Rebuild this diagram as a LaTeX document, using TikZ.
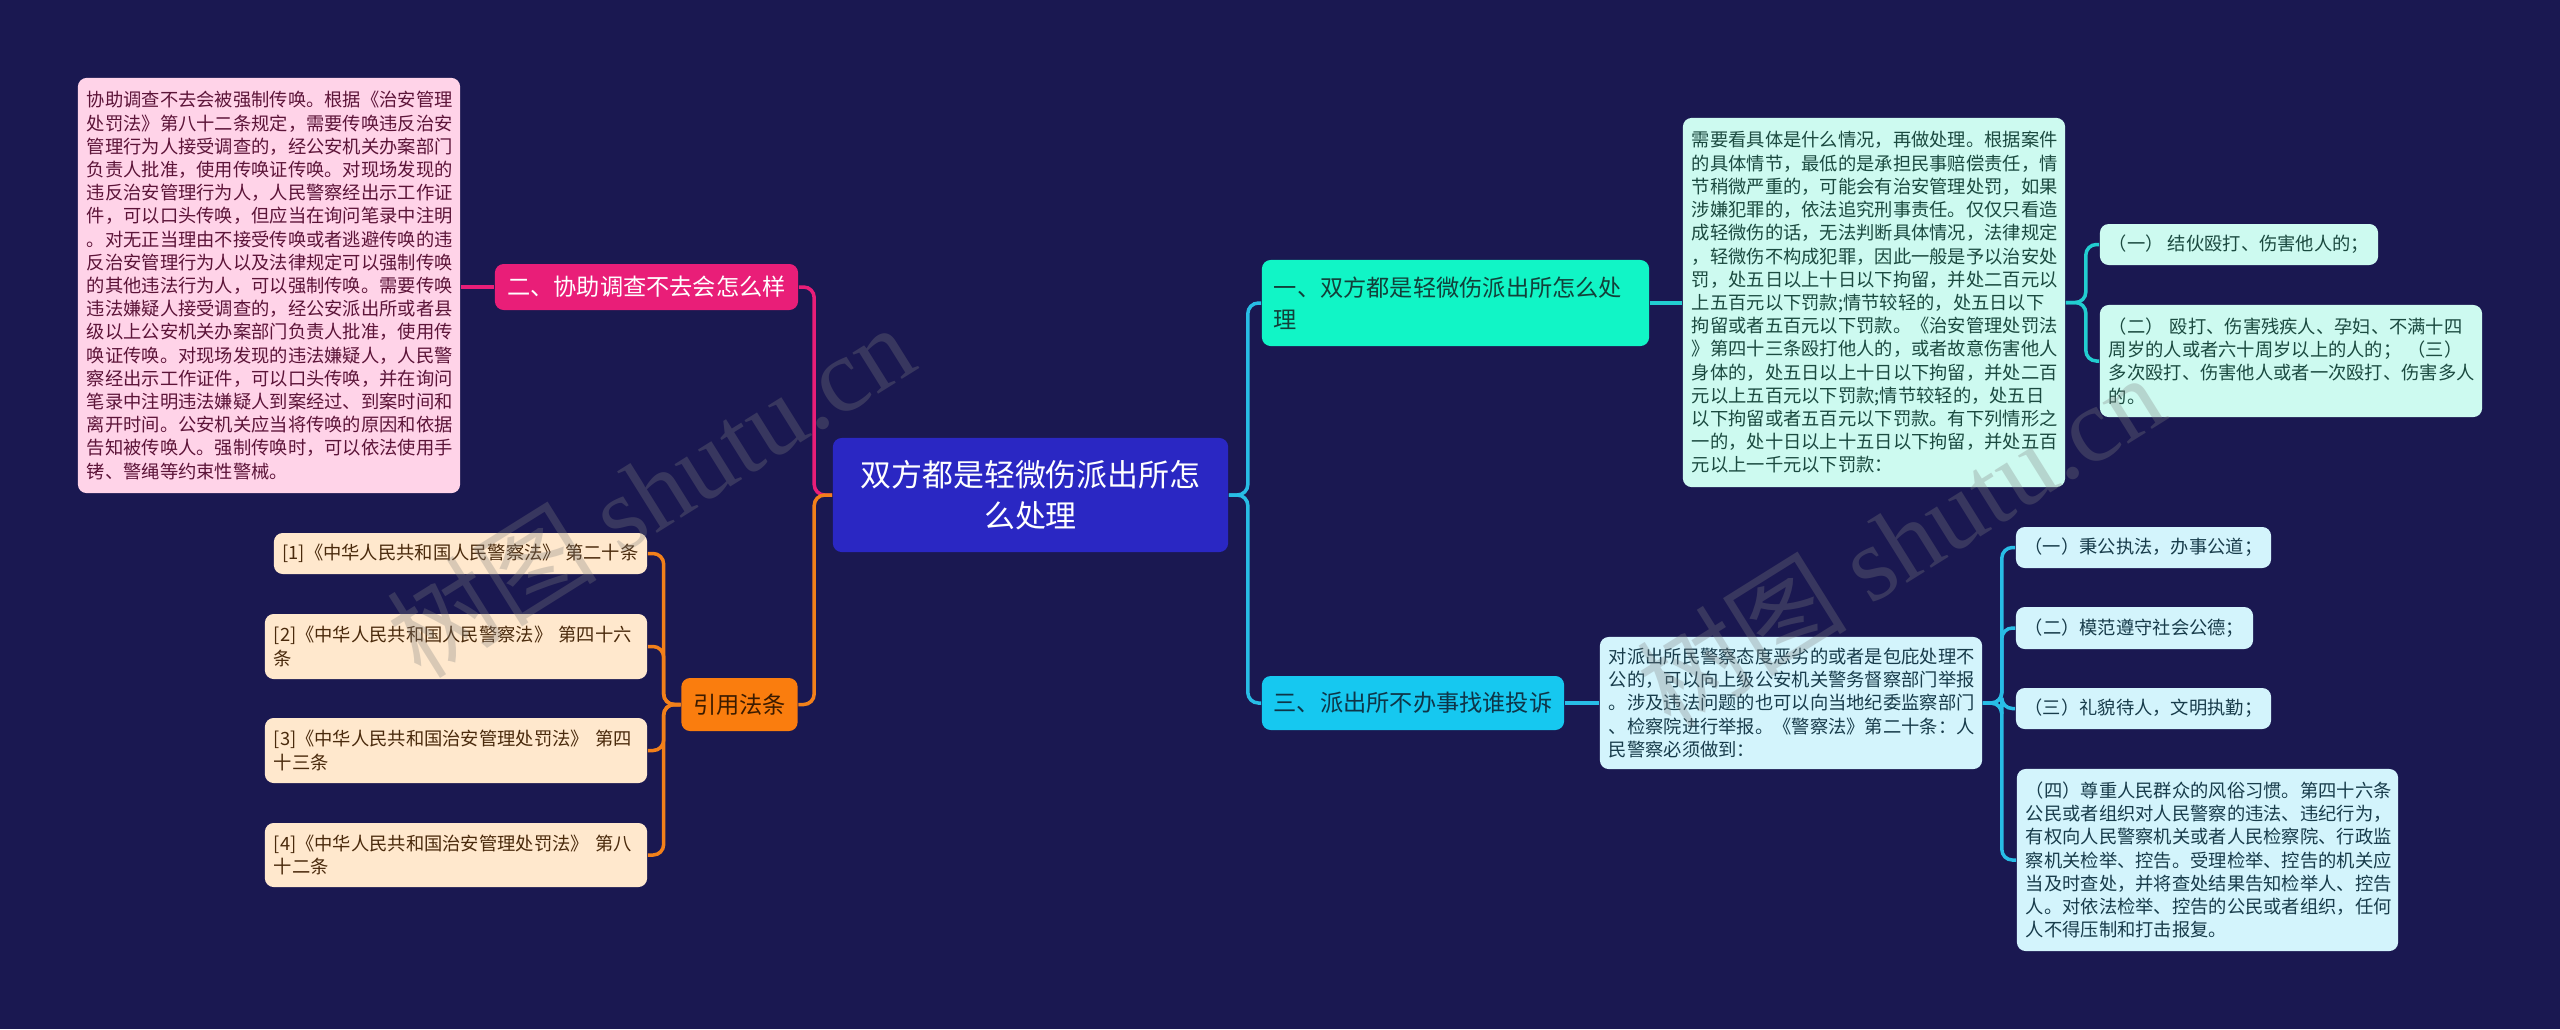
\documentclass[tikz,border=0pt]{standalone}
\usepackage{fontspec}
\setmainfont{Noto Sans CJK SC}
\newfontfamily\wmlatin{Liberation Serif}
\usetikzlibrary{positioning}
\definecolor{bgnavy}{HTML}{1A1851}
\definecolor{rootblue}{HTML}{2A27C3}
\definecolor{pinkhead}{HTML}{E91E78}
\definecolor{pinkleaf}{HTML}{FFD3E8}
\definecolor{pinktext}{HTML}{5C1438}
\definecolor{orangehead}{HTML}{FA7D0E}
\definecolor{orangetext}{HTML}{3B1B00}
\definecolor{peach}{HTML}{FFE8CD}
\definecolor{peachtext}{HTML}{4A2A0C}
\definecolor{aquahead}{HTML}{11F5C6}
\definecolor{aquatext}{HTML}{12403A}
\definecolor{aqualeaf}{HTML}{CDFAF0}
\definecolor{aqualeaftext}{HTML}{1B4A40}
\definecolor{cyanhead}{HTML}{16C8F0}
\definecolor{cyantext}{HTML}{0E3548}
\definecolor{cyanleaf}{HTML}{D3F4FC}
\definecolor{cyanleaftext}{HTML}{183C4B}
\definecolor{linkcyan}{HTML}{28BDE6}
\definecolor{linkteal}{HTML}{22CDD0}
\definecolor{linkorange}{HTML}{F2801A}
\tikzset{
  box/.style={rounded corners=2.5pt,inner ysep=0pt},
  rootbox/.style={box,fill=rootblue,text=white,align=center,minimum width=3.95cm,minimum height=1.14cm,font=\fontsize{8.8pt}{11.8pt}\selectfont},
  headbox/.style={box,align=left,font=\fontsize{6.6pt}{9pt}\selectfont},
  leaf/.style={box,align=left,inner xsep=0.09cm,font=\fontsize{5.2pt}{6.6pt}\selectfont},
  pinkbox/.style={leaf,fill=pinkleaf,text=pinktext},
  peachbox/.style={leaf,fill=peach,text=peachtext},
  aquabox/.style={leaf,fill=aqualeaf,text=aqualeaftext},
  cyanbox/.style={leaf,fill=cyanleaf,text=cyanleaftext},
  link/.style={line width=1pt,rounded corners=3pt},
  watermark/.style={rotate=32,text=gray,opacity=.3,font=\fontsize{30pt}{30pt}\selectfont}
}

\begin{document}
\begin{tikzpicture}[x=0.01cm,y=-0.01cm]
\fill[bgnavy] (0,0) rectangle (2560,1029);
\useasboundingbox (0,0) rectangle (2560,1029);
% centre and main branches
\node[rootbox] (root) at (1030.5,495) {双方都是轻微伤派出所怎\\么处理};
\node[headbox,fill=aquahead,text=aquatext,inner xsep=0.12cm,text width=3.63cm,minimum height=0.86cm] (n1) at (1455.5,303) {一、双方都是轻微伤派出所怎么处\\理};
\node[headbox,fill=cyanhead,text=cyantext,align=center,minimum width=3.02cm,minimum height=0.54cm] (n3) at (1413,703) {三、派出所不办事找谁投诉};
\node[headbox,fill=pinkhead,text=white,align=center,minimum width=3.03cm,minimum height=0.46cm] (n2) at (646.5,287) {二、协助调查不去会怎么样};
\node[headbox,fill=orangehead,text=orangetext,align=center,minimum width=1.15cm,minimum height=0.53cm] (law) at (739.5,704.5) {引用法条};
% left side
\node[pinkbox,text width=3.64cm,minimum height=4.15cm] (lp) at (269,285.5) {协助调查不去会被强制传唤。根据《治安管理\\
处罚法》第八十二条规定，需要传唤违反治安\\
管理行为人接受调查的，经公安机关办案部门\\
负责人批准，使用传唤证传唤。对现场发现的\\
违反治安管理行为人，人民警察经出示工作证\\
件，可以口头传唤，但应当在询问笔录中注明\\
。对无正当理由不接受传唤或者逃避传唤的违\\
反治安管理行为人以及法律规定可以强制传唤\\
的其他违法行为人，可以强制传唤。需要传唤\\
违法嫌疑人接受调查的，经公安派出所或者县\\
级以上公安机关办案部门负责人批准，使用传\\
唤证传唤。对现场发现的违法嫌疑人，人民警\\
察经出示工作证件，可以口头传唤，并在询问\\
笔录中注明违法嫌疑人到案经过、到案时间和\\
离开时间。公安机关应当将传唤的原因和依据\\
告知被传唤人。强制传唤时，可以依法使用手\\
铐、警绳等约束性警械。};
\node[peachbox,inner xsep=0pt,minimum width=3.73cm,minimum height=0.41cm] (r1) at (460.5,553.5) {[1]《中华人民共和国人民警察法》 第二十条};
\node[peachbox,text width=3.64cm,minimum height=0.65cm] (r2) at (456,646.5) {[2]《中华人民共和国人民警察法》 第四十六\\条};
\node[peachbox,text width=3.64cm,minimum height=0.65cm] (r3) at (456,750.5) {[3]《中华人民共和国治安管理处罚法》 第四\\十三条};
\node[peachbox,text width=3.64cm,minimum height=0.64cm] (r4) at (456,855) {[4]《中华人民共和国治安管理处罚法》 第八\\十二条};
% right side
\node[aquabox,text width=3.64cm,minimum height=3.69cm] (lt) at (1874,302.5) {需要看具体是什么情况，再做处理。根据案件\\
的具体情节，最低的是承担民事赔偿责任，情\\
节稍微严重的，可能会有治安管理处罚，如果\\
涉嫌犯罪的，依法追究刑事责任。仅仅只看造\\
成轻微伤的话，无法判断具体情况，法律规定\\
，轻微伤不构成犯罪，因此一般是予以治安处\\
罚，处五日以上十日以下拘留，并处二百元以\\
上五百元以下罚款;情节较轻的，处五日以下\\
拘留或者五百元以下罚款。《治安管理处罚法\\
》第四十三条殴打他人的，或者故意伤害他人\\
身体的，处五日以上十日以下拘留，并处二百\\
元以上五百元以下罚款;情节较轻的，处五日\\
以下拘留或者五百元以下罚款。有下列情形之\\
一的，处十日以上十五日以下拘留，并处五百\\
元以上一千元以下罚款：};
\node[aquabox,inner xsep=0pt,minimum width=2.78cm,minimum height=0.41cm] (lt1) at (2239,244.5) {（一） 结伙殴打、伤害他人的；};
\node[aquabox,text width=3.64cm,minimum height=1.12cm] (lt2) at (2291,361) {（二） 殴打、伤害残疾人、孕妇、不满十四\\
周岁的人或者六十周岁以上的人的； （三）\\
多次殴打、伤害他人或者一次殴打、伤害多人\\
的。};
\node[cyanbox,text width=3.64cm,minimum height=1.32cm] (lc) at (1791,703) {对派出所民警察态度恶劣的或者是包庇处理不\\
公的，可以向上级公安机关警务督察部门举报\\
。涉及违法问题的也可以向当地纪委监察部门\\
、检察院进行举报。《警察法》第二十条：人\\
民警察必须做到：};
\node[cyanbox,inner xsep=0pt,minimum width=2.55cm,minimum height=0.41cm] (lc1) at (2143.5,547.5) {（一）秉公执法，办事公道；};
\node[cyanbox,inner xsep=0pt,minimum width=2.37cm,minimum height=0.42cm] (lc2) at (2134.5,628) {（二）模范遵守社会公德；};
\node[cyanbox,inner xsep=0pt,minimum width=2.55cm,minimum height=0.41cm] (lc3) at (2143.5,708.5) {（三）礼貌待人，文明执勤；};
\node[cyanbox,text width=3.63cm,minimum height=1.82cm] (lc4) at (2207.5,860) {（四）尊重人民群众的风俗习惯。第四十六条\\
公民或者组织对人民警察的违法、违纪行为，\\
有权向人民警察机关或者人民检察院、行政监\\
察机关检举、控告。受理检举、控告的机关应\\
当及时查处，并将查处结果告知检举人、控告\\
人。对依法检举、控告的公民或者组织，任何\\
人不得压制和打击报复。};
% connectors
\draw[link,pinkhead] (root.west) -- ++(-18,0) |- (n2.east);
\draw[link,linkorange] (root.west) -- ++(-18,0) |- (law.east);
\draw[link,pinkhead] (n2.west) -- (n2.west -| lp.east);
\foreach \r in {r1,r2,r3,r4}
  \draw[link,linkorange] (law.west) -- ++(-17,0) |- (\r.east);
\draw[link,linkcyan] (root.east) -- ++(19,0) |- (n1.west);
\draw[link,linkcyan] (root.east) -- ++(19,0) |- (n3.west);
\draw[link,linkteal] (n1.east) -- (n1.east -| lt.west);
\foreach \r in {lt1,lt2}
  \draw[link,linkteal] (lt.east) -- ++(20,0) |- (\r.west);
\draw[link,linkcyan] (n3.east) -- (lc.west);
\foreach \r in {lc1,lc2,lc3,lc4}
  \draw[link,linkcyan] (lc.east) -- ++(19,0) |- (\r.west);
% watermarks
\node[watermark] (wm1) at (650,490) {树图 {\wmlatin shutu.cn}};
\node[watermark] (wm2) at (1900,540) {树图 {\wmlatin shutu.cn}};
\end{tikzpicture}
\end{document}
